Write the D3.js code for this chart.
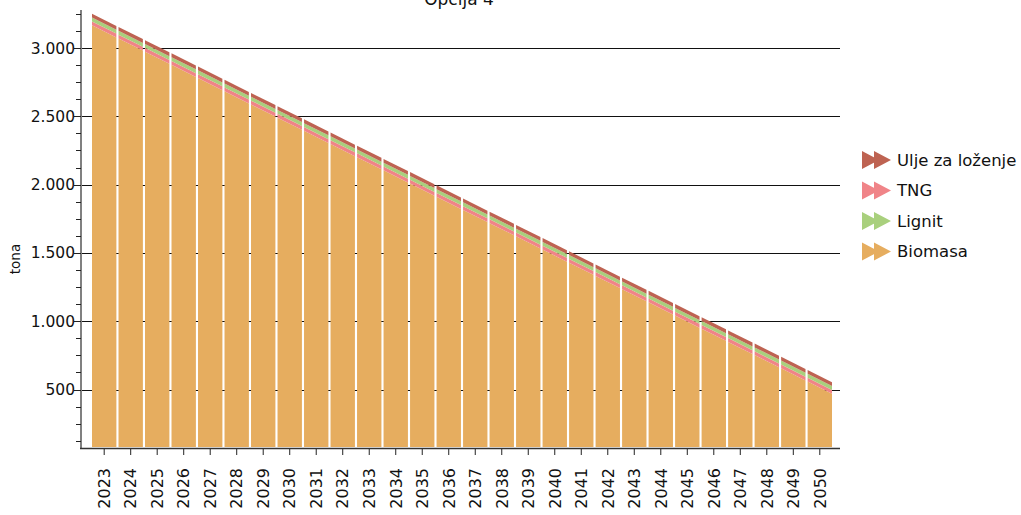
<!DOCTYPE html>
<html>
<head>
<meta charset="utf-8">
<script src="https://cdn.jsdelivr.net/npm/d3@7"></script>
<style>
  html, body { margin: 0; padding: 0; background: #fff; }
  svg { display: block; font-family: "DejaVu Sans", sans-serif; }
</style>
</head>
<body>
<svg id="chart" width="1021" height="515"></svg>
<script>
const years = [2023,2024,2025,2026,2027,2028,2029,2030,2031,2032,2033,2034,2035,2036,2037,2038,2039,2040,2041,2042,2043,2044,2045,2046,2047,2048,2049,2050];
const biomasa = [3122,3025,2929,2832,2736,2639,2542,2446,2349,2253,2156,2060,1963,1866,1770,1673,1577,1480,1384,1287,1190,1094,997,901,804,708,611,514];
const tng     = [28,28,28,28,28,28,28,28,28,28,28,28,28,28,28,28,28,28,28,28,28,28,28,28,28,28,28,28];
const lignit  = [28,28,28,28,28,28,28,28,28,28,28,28,28,28,28,28,28,28,28,28,28,28,28,28,28,28,28,28];
const ulje    = [28,28,28,28,28,28,28,28,28,28,28,28,28,28,28,28,28,28,28,28,28,28,28,28,28,28,28,28];
const seriesNames = ["Biomasa","TNG","Lignit","Ulje za loženje"]; // stack order bottom-up
const legendNames = ["Ulje za loženje","TNG","Lignit","Biomasa"];
const colors = {"Ulje za loženje":"#BE6352","TNG":"#F08488","Lignit":"#A9D07D","Biomasa":"#E6AD5F"};
const yMajorTicks = [500,1000,1500,2000,2500,3000];
const title = "Opcija 4";
const yLabel = "tona";

const svg = d3.select("#chart");
const fmt = d3.formatLocale({decimal: ",", thousands: ".", grouping: [3], currency: ["", ""]}).format(",d");

const table = years.map((yr, i) => ({year: yr, "Biomasa": biomasa[i], "TNG": tng[i], "Lignit": lignit[i], "Ulje za loženje": ulje[i]}));
const stacked = d3.stack().keys(seriesNames)(table);

const x = d3.scaleBand().domain(years).range([92, 832]).paddingInner(0.08).paddingOuter(0);
const y = d3.scaleLinear().domain([72, 3278]).range([448, 10]);

const axisLeftX = 81, axisRightX = 840;

// gridlines
svg.append("g").selectAll("line").data(yMajorTicks).join("line")
  .attr("x1", axisLeftX).attr("x2", axisRightX)
  .attr("y1", d => Math.round(y(d)) + 0.5).attr("y2", d => Math.round(y(d)) + 0.5)
  .attr("stroke", "#111").attr("stroke-width", 1);

// interpolation of stack values along x (centers linear, extrapolated at ends)
const step = x.step(), bw = x.bandwidth();
const c0 = x(years[0]) + bw / 2;
function interp(arr, px) {
  const t = (px - c0) / step;
  let i = Math.floor(t);
  i = Math.max(0, Math.min(arr.length - 2, i));
  const f = t - i;
  return arr[i] + (arr[i + 1] - arr[i]) * f;
}

const bars = svg.append("g");
stacked.forEach(layer => {
  const lo = layer.map(d => d[0]);
  const hi = layer.map(d => d[1]);
  bars.append("g").attr("fill", colors[layer.key])
    .selectAll("path").data(years).join("path")
    .attr("d", yr => {
      const xl = x(yr), xr = x(yr) + bw;
      const pts = [
        [xl, Math.min(447, y(interp(lo, xl)))],
        [xl, y(interp(hi, xl))],
        [xr, y(interp(hi, xr))],
        [xr, Math.min(447, y(interp(lo, xr)))]
      ];
      return "M" + pts.map(p => p.join(",")).join("L") + "Z";
    });
});

// y axis
const yAxisG = svg.append("g");
yAxisG.append("line").attr("x1", axisLeftX).attr("x2", axisLeftX).attr("y1", 10).attr("y2", 448)
  .attr("stroke", "#808080").attr("stroke-width", 2);
const minorTicks = d3.range(125, 3278, 125).filter(v => v % 500 !== 0);
yAxisG.selectAll("line.minor").data(minorTicks).join("line").attr("class", "minor")
  .attr("x1", axisLeftX - 5).attr("x2", axisLeftX)
  .attr("y1", d => Math.round(y(d)) + 0.5).attr("y2", d => Math.round(y(d)) + 0.5)
  .attr("stroke", "#222").attr("stroke-width", 1);
yAxisG.selectAll("line.major").data(yMajorTicks).join("line").attr("class", "major")
  .attr("x1", axisLeftX - 7).attr("x2", axisLeftX)
  .attr("y1", d => Math.round(y(d)) + 0.5).attr("y2", d => Math.round(y(d)) + 0.5)
  .attr("stroke", "#222").attr("stroke-width", 1);
yAxisG.selectAll("text").data(yMajorTicks).join("text")
  .attr("x", axisLeftX - 6).attr("y", d => y(d))
  .attr("dy", "0.36em").attr("text-anchor", "end")
  .attr("font-size", 15.5).attr("fill", "#111")
  .text(d => fmt(d));

// x axis
const xAxisG = svg.append("g");
xAxisG.append("line").attr("x1", axisLeftX - 1).attr("x2", axisRightX).attr("y1", 448.5).attr("y2", 448.5)
  .attr("stroke", "#333").attr("stroke-width", 1.5);
xAxisG.selectAll("line.tick").data(years).join("line").attr("class", "tick")
  .attr("x1", d => x(d) + bw / 2).attr("x2", d => x(d) + bw / 2)
  .attr("y1", 449).attr("y2", 455)
  .attr("stroke", "#222").attr("stroke-width", 1);
xAxisG.selectAll("text").data(years).join("text")
  .attr("transform", d => `translate(${x(d) + bw / 2},468) rotate(-90)`)
  .attr("dy", "0.36em").attr("text-anchor", "end")
  .attr("font-size", 16).attr("fill", "#111")
  .text(d => d);

// title
svg.append("text").attr("x", 459).attr("y", 5).attr("text-anchor", "middle")
  .attr("font-size", 17).attr("fill", "#111").text(title);

// y label
svg.append("text").attr("transform", "translate(20,259) rotate(-90)")
  .attr("text-anchor", "middle").attr("font-size", 13.5).attr("fill", "#111").text(yLabel);

// legend
const leg = svg.append("g");
const legRows = leg.selectAll("g").data(legendNames).join("g")
  .attr("transform", (d, i) => `translate(862,${160 + i * 30.5})`);
legRows.append("path")
  .attr("d", "M0,-9L17,0L0,9Z M12,-9L29,0L12,9Z")
  .attr("fill", d => colors[d]);
legRows.append("text").attr("x", 35).attr("dy", "0.36em")
  .attr("font-size", 16.5).attr("fill", "#111").text(d => d);
</script>
</body>
</html>
